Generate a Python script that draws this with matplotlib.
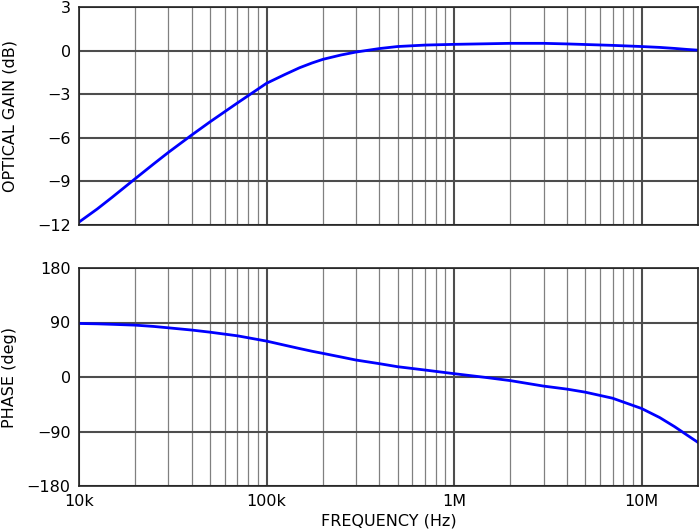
import numpy as np
import matplotlib
matplotlib.use('Agg')
import matplotlib.pyplot as plt
from matplotlib.ticker import FixedLocator, LogLocator, NullFormatter

# frequency points (Hz)
freq = [1e4, 1.25e4, 1.5e4, 2e4, 2.5e4, 3e4, 4e4, 5e4, 7e4, 1e5, 1.25e5, 1.5e5,
        1.75e5, 2e5, 2.5e5, 3e5, 4e5, 5e5, 7e5, 1e6, 1.5e6, 2e6, 3e6, 4e6, 5e6,
        7e6, 1e7, 1.25e7, 1.5e7, 1.75e7, 2e7]
gain_db = [-11.8, -10.9, -10.1, -8.8, -7.8, -7.0, -5.8, -4.9, -3.6, -2.25,
           -1.65, -1.18, -0.85, -0.6, -0.3, -0.1, 0.14, 0.28, 0.38, 0.43, 0.47,
           0.5, 0.5, 0.46, 0.42, 0.36, 0.28, 0.22, 0.15, 0.08, 0.03]
phase_deg = [88.4, 87.8, 87, 85.6, 83.5, 81.2, 77.5, 74, 68, 59.3,
             52.5, 47, 42.5, 39, 33, 28, 22, 17, 11.5, 5.5, -1,
             -6, -15, -20, -25, -35, -52, -67, -82, -96, -108]

gain_ticks = [-12, -9, -6, -3, 0, 3]
phase_ticks = [-180, -90, 0, 90, 180]
freq_ticks = [1e4, 1e5, 1e6, 1e7]
freq_labels = ['10k', '100k', '1M', '10M']

plt.rcParams['font.family'] = 'DejaVu Sans'
fs = 11.5

fig = plt.figure(figsize=(7.0, 5.29), dpi=100)
ax1 = fig.add_axes([79 / 700, 1 - 225 / 529, 619 / 700, 218 / 529])
ax2 = fig.add_axes([79 / 700, 1 - 486 / 529, 619 / 700, 218 / 529])

for ax, y, yt, ylab in [(ax1, gain_db, gain_ticks, 'OPTICAL GAIN (dB)'),
                        (ax2, phase_deg, phase_ticks, 'PHASE (deg)')]:
    ax.set_xscale('log')
    ax.set_xlim(1e4, 2e7)
    ax.set_ylim(yt[0], yt[-1])
    ax.yaxis.set_major_locator(FixedLocator(yt))
    ax.set_yticklabels(['\u2212' + str(abs(v)) if v < 0 else str(v) for v in yt])
    ax.xaxis.set_major_locator(FixedLocator(freq_ticks))
    ax.xaxis.set_minor_locator(LogLocator(base=10, subs=np.arange(2, 10)))
    ax.xaxis.set_minor_formatter(NullFormatter())
    ax.grid(which='major', color='#4d4d4d', linewidth=1.5)
    ax.grid(which='minor', axis='x', color='#808080', linewidth=0.9)
    ax.set_axisbelow(True)
    ax.plot(freq, y, color='#0000ff', linewidth=2)
    ax.tick_params(which='both', length=0, pad=6, labelsize=fs)
    ax.set_ylabel(ylab, fontsize=fs)
    ax.yaxis.set_label_coords(-0.1, 0.5)
    for s in ax.spines.values():
        s.set_color('#222222')
        s.set_linewidth(1.2)

ax1.set_xticklabels([])
ax2.set_xticklabels(freq_labels)
ax2.set_xlabel('FREQUENCY (Hz)', fontsize=fs, labelpad=3)

fig.savefig('out.png', dpi=100)
